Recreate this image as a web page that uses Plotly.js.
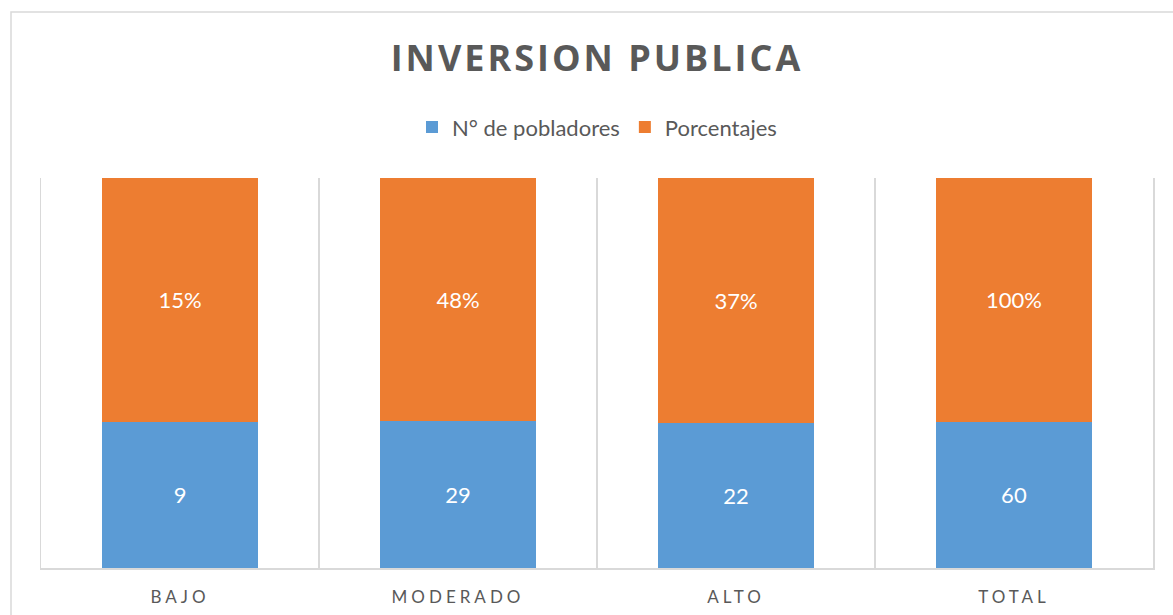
<!DOCTYPE html>
<html>
<head>
<meta charset="utf-8">
<script src="https://cdn.plot.ly/plotly-3.0.1.min.js"></script>
<style>
html,body{margin:0;padding:0;background:#fff;}
#chart{width:1173px;height:615px;}
.xtick text{letter-spacing:4px;}
.gtitle{letter-spacing:3px;}
</style>
</head>
<body>
<div id="chart"></div>
<script>
const categories = ["BAJO", "MODERADO", "ALTO", "TOTAL"];
const pobladores = [9, 29, 22, 60];
const porcentajes = [15, 48, 37, 100];
const porcentajeLabels = porcentajes.map(v => v + "%");
const seriesNames = ["N° de pobladores", "Porcentajes"];

const FONT = "Lato, 'Open Sans', sans-serif";
const traces = [
  {
    type: "bar", name: seriesNames[0], x: categories, y: pobladores,
    text: pobladores.map(String), textposition: "inside", insidetextanchor: "middle",
    textangle: 0, textfont: {family: FONT, size: 22, color: "#ffffff"},
    marker: {color: "#5B9BD5"}, hoverinfo: "x+y"
  },
  {
    type: "bar", name: seriesNames[1], x: categories, y: porcentajes,
    text: porcentajeLabels, textposition: "inside", insidetextanchor: "middle",
    textangle: 0, textfont: {family: FONT, size: 22, color: "#ffffff"},
    marker: {color: "#ED7D31"}, hoverinfo: "x+y"
  }
];

const layout = {
  width: 1173, height: 615,
  margin: {l: 41, r: 20, t: 178, b: 47},
  paper_bgcolor: "#ffffff", plot_bgcolor: "#ffffff",
  barmode: "stack", barnorm: "percent", bargap: 0.44,
  font: {family: FONT, color: "#595959"},
  title: {
    text: "<b>INVERSION PUBLICA</b>",
    font: {family: "'Open Sans', sans-serif", size: 36, color: "#595959"},
    x: 0.5, xanchor: "center", xref: "paper",
    y: 1 - 58/615, yanchor: "middle", yref: "container"
  },
  showlegend: true,
  legend: {
    orientation: "h", x: 0.5, xanchor: "center", y: 1.13, yanchor: "middle",
    font: {family: FONT, size: 22, color: "#595959"},
    traceorder: "normal", itemwidth: 30
  },
  xaxis: {
    type: "category", range: [-0.5, 3.5], tickson: "boundaries",
    showgrid: true, gridcolor: "#D9D9D9", gridwidth: 1.5,
    showline: true, linecolor: "#D9D9D9", linewidth: 1.5,
    ticks: "", ticklabelstandoff: 13,
    tickfont: {family: FONT, size: 17, color: "#595959"},
    fixedrange: true
  },
  yaxis: {
    range: [0, 100], showgrid: false, zeroline: false, showticklabels: false,
    showline: true, mirror: true, linecolor: "#D9D9D9", linewidth: 1.5,
    ticks: "", fixedrange: true
  },
  shapes: [{
    type: "rect", xref: "paper", yref: "paper",
    x0: (11 - 41) / 1112, x1: 1.05, y0: -0.2, y1: (568 - 12) / 390,
    line: {color: "#D9D9D9", width: 1.5}, fillcolor: "rgba(0,0,0,0)", layer: "below"
  }]
};

Plotly.newPlot("chart", traces, layout, {displayModeBar: false, staticPlot: true});
</script>
</body>
</html>
